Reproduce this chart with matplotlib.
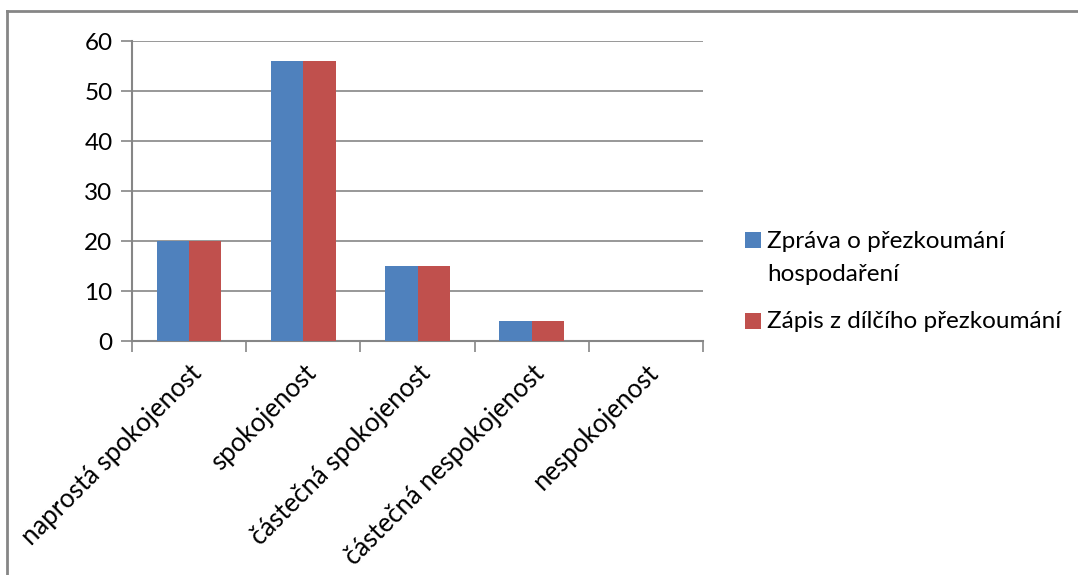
import matplotlib
matplotlib.use("Agg")
import matplotlib.pyplot as plt
import numpy as np
from matplotlib.lines import Line2D
from matplotlib.patches import Rectangle

categories = ["naprostá spokojenost", "spokojenost", "částečná spokojenost",
              "částečná nespokojenost", "nespokojenost"]
series_names = ["Zpráva o přezkoumání\nhospodaření", "Zápis z dílčího přezkoumání"]
zprava = [20, 56, 15, 4, 0]
zapis = [20, 56, 15, 4, 0]
yticks = [0, 10, 20, 30, 40, 50, 60]

plt.rcParams['font.family'] = ['Lato', 'DejaVu Sans']

W, H = 1078, 575
fig = plt.figure(figsize=(W / 100, H / 100), dpi=100)
ax = fig.add_axes([132 / W, 1 - 341 / H, (703 - 132) / W, (341 - 41) / H])

blue = "#4F81BD"
red = "#C0504D"
grid = "#868686"
fs = 17.5
colors = [blue, red]

x = np.arange(len(categories))
bw = 0.282
b1 = ax.bar(x - bw / 2, zprava, bw, color=blue, zorder=3)
b2 = ax.bar(x + bw / 2, zapis, bw, color=red, zorder=3)

ax.set_xlim(-0.5, len(categories) - 0.5)
ax.set_ylim(0, 60)
ax.set_yticks(yticks)
ax.set_yticklabels([str(v) for v in yticks], fontsize=fs)
ax.yaxis.grid(True, color=grid, linewidth=1.2, zorder=0)
for s in ["top", "right"]:
    ax.spines[s].set_visible(False)
for s in ["left", "bottom"]:
    ax.spines[s].set_color(grid)
    ax.spines[s].set_linewidth(1.5)
ax.tick_params(axis='y', length=8, width=1.2, color=grid, pad=6)
ax.set_xticks(np.arange(len(categories) + 1) - 0.5, minor=True)
ax.set_xticks(x)
ax.tick_params(axis='x', which='minor', length=8, width=1.2, color=grid, direction='out')
ax.tick_params(axis='x', which='major', length=0, pad=14)
ax.set_xticklabels(categories, rotation=45, ha='right', rotation_mode='anchor', fontsize=18.5)
for lab in ax.get_xticklabels():
    lab.set_x(lab.get_position()[0])

# legend drawn manually (square aligned with first text line, as in the reference)
legend_rows = [(232, 248), (313, 328)]
line_step = 33
for name, col, (ytop, ybase) in zip(series_names, colors, legend_rows):
    fig.add_artist(Rectangle((745 / W, 1 - (ytop + 16) / H), 16 / W, 16 / H,
                             transform=fig.transFigure, facecolor=col, edgecolor='none'))
    for i, line in enumerate(name.split("\n")):
        fig.text(767 / W, 1 - (ybase + i * line_step) / H, line, fontsize=fs,
                 ha='left', va='baseline')

# outer chart border (top and left visible)
fig.add_artist(Line2D([7 / W, 1.0], [1 - 11 / H, 1 - 11 / H], transform=fig.transFigure,
                      color=grid, linewidth=2))
fig.add_artist(Line2D([7 / W, 7 / W], [0, 1 - 11 / H], transform=fig.transFigure,
                      color=grid, linewidth=2))

fig.savefig("out.png", dpi=100)
